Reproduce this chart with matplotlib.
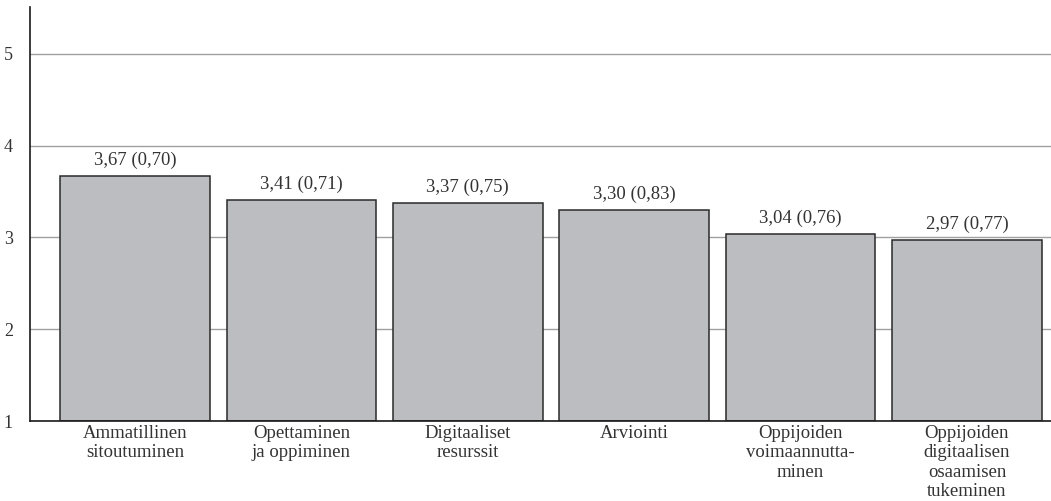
import matplotlib
matplotlib.use("Agg")
import matplotlib.pyplot as plt

categories = [
    "Ammatillinen\nsitoutuminen",
    "Opettaminen\nja oppiminen",
    "Digitaaliset\nresurssit",
    "Arviointi",
    "Oppijoiden\nvoimaannutta-\nminen",
    "Oppijoiden\ndigitaalisen\nosaamisen\ntukeminen",
]
means = [3.67, 3.41, 3.37, 3.30, 3.04, 2.97]
sds = [0.70, 0.71, 0.75, 0.83, 0.76, 0.77]
yticks = [1, 2, 3, 4, 5]

plt.rcParams["font.family"] = ["Liberation Serif", "DejaVu Serif"]

fig = plt.figure(figsize=(10.51, 5.01), dpi=100)
ax = fig.add_axes([29.5 / 1051, 80 / 501, 1 - 29.5 / 1051, 414 / 501])

x = list(range(len(categories)))
ax.bar(x, [m - 1 for m in means], bottom=1, width=0.9, color="#bcbdc1",
       edgecolor="#2a2a2a", linewidth=1.1, zorder=3)

for xi, m, s in zip(x, means, sds):
    label = f"{m:.2f} ({s:.2f})".replace(".", ",")
    ax.annotate(label, (xi, m), xytext=(0, 5), textcoords="offset points",
                ha="center", va="bottom", fontsize=13.5, color="#333333")

ax.set_xlim(-0.634, 5.505)
ax.set_ylim(1, 5.51)
ax.set_yticks(yticks)
ax.set_yticklabels([str(t) for t in yticks], fontsize=13, color="#333333")
ax.set_xticks(x)
ax.set_xticklabels(categories, fontsize=13.5, color="#333333", linespacing=1.17)
ax.tick_params(axis="both", length=0)
ax.tick_params(axis="y", pad=12)
ax.tick_params(axis="x", pad=3)

ax.grid(axis="y", color="#a0a0a0", linewidth=1.0, zorder=0)
ax.set_axisbelow(True)
for side in ["top", "right"]:
    ax.spines[side].set_visible(False)
for side in ["left", "bottom"]:
    ax.spines[side].set_color("#1a1a1a")
    ax.spines[side].set_linewidth(1.2)
    ax.spines[side].set_zorder(4)

fig.savefig("out.png", dpi=100)
